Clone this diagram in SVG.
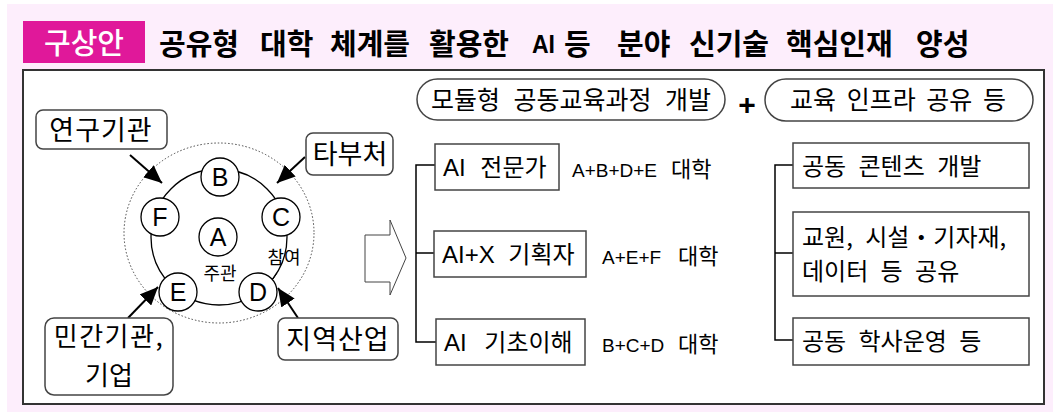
<svg xmlns="http://www.w3.org/2000/svg" width="1053" height="416" viewBox="0 0 1053 416">
<style>
.t{font-family:"Noto Sans CJK KR","Liberation Sans",sans-serif;fill:#000}
.l{font-family:"Liberation Sans","Noto Sans CJK KR",sans-serif;fill:#000}
.box{fill:#fff;stroke:#444;stroke-width:1.5}
.ln{fill:none;stroke:#000;stroke-width:1.5}
.arr{fill:none;stroke:#000;stroke-width:2;marker-end:url(#ah)}
.sc{fill:#fff;stroke:#000;stroke-width:1.3}
</style>
<defs>
<marker id="ah" markerUnits="userSpaceOnUse" markerWidth="20" markerHeight="16" refX="18" refY="8" orient="auto">
<path d="M0,0 L18,8 L0,16 Z" fill="#000"/>
</marker>
</defs>
<rect x="7" y="4" width="1046" height="408" fill="#fdeefc"/>
<g id="title">
<rect x="23" y="21" width="122" height="42" fill="#e0189a"/>
<text class="t" x="84" y="54" font-size="29" font-weight="500" style="fill:#fff" text-anchor="middle">구상안</text>
<text class="t" y="55" font-size="29" font-weight="700"><tspan x="159">공유형</tspan> <tspan x="260">대학</tspan> <tspan x="330">체계를</tspan> <tspan x="429">활용한</tspan> <tspan x="564">등</tspan> <tspan x="617">분야</tspan> <tspan x="689">신기술</tspan> <tspan x="786">핵심인재</tspan> <tspan x="916">양성</tspan></text>
<text class="l" x="532" y="53" font-size="26" font-weight="700" textLength="23" lengthAdjust="spacingAndGlyphs">AI</text>
</g>
<rect x="23" y="70" width="1021" height="334" fill="#fff" stroke="#333" stroke-width="2"/>
<g id="orbit">
<ellipse cx="219" cy="233" rx="95" ry="90" fill="none" stroke="#444" stroke-width="1" stroke-dasharray="1.5,2"/>
<circle cx="219" cy="237" r="68" fill="none" stroke="#000" stroke-width="1.3"/>
</g>
<g id="connectors">
<line class="arr" x1="130" y1="155" x2="162" y2="183"/>
<line class="arr" x1="305" y1="157" x2="277" y2="183"/>
<line class="arr" x1="128" y1="318" x2="158" y2="287"/>
<line class="arr" x1="298" y1="318" x2="278" y2="288"/>
<path d="M365,235 H390 V220 L406,258 L390,295 V282 H365 Z" fill="#fff" stroke="#444" stroke-width="1"/>
<path class="ln" d="M435,165 H416 V342 H436 M416,253 H434"/>
<path class="ln" d="M793,165 H775 V340 H793 M775,253 H793"/>
<line x1="273" y1="279" x2="277" y2="273" stroke="#000" stroke-width="1"/>
</g>
<g id="nodeA"><circle class="sc" cx="218" cy="237" r="19"/><text class="l" x="218" y="246" font-size="25" text-anchor="middle">A</text></g>
<g id="nodeB"><circle class="sc" cx="220" cy="177" r="19"/><text class="l" x="220" y="186" font-size="25" text-anchor="middle">B</text></g>
<g id="nodeC"><circle class="sc" cx="281" cy="217" r="19"/><text class="l" x="281" y="226" font-size="25" text-anchor="middle">C</text></g>
<g id="nodeD"><circle class="sc" cx="258" cy="292" r="19"/><text class="l" x="258" y="301" font-size="25" text-anchor="middle">D</text></g>
<g id="nodeE"><circle class="sc" cx="178" cy="292" r="19"/><text class="l" x="178" y="301" font-size="25" text-anchor="middle">E</text></g>
<g id="nodeF"><circle class="sc" cx="160" cy="217" r="19"/><text class="l" x="160" y="226" font-size="25" text-anchor="middle">F</text></g>
<g id="labels">
<text class="t" x="220" y="280" font-size="18" text-anchor="middle">주관</text>
<text class="t" x="284" y="264" font-size="18" text-anchor="middle">참여</text>
</g>
<g id="yeongu"><rect class="box" x="36" y="110" width="131" height="39" rx="7"/><text class="t" x="101" y="140" font-size="27" letter-spacing="1" text-anchor="middle">연구기관</text></g>
<g id="tabucheo"><rect class="box" x="306" y="133" width="87" height="42" rx="7"/><text class="t" x="350" y="164" font-size="27" text-anchor="middle">타부처</text></g>
<g id="mingan"><rect class="box" x="45" y="318" width="128" height="77" rx="9"/><text class="t" x="109" y="346" font-size="26" letter-spacing="1.5" text-anchor="middle">민간기관,</text><text class="t" x="109" y="385" font-size="26" text-anchor="middle">기업</text></g>
<g id="jiyeok"><rect class="box" x="278" y="318" width="120" height="42" rx="7"/><text class="t" x="338" y="349" font-size="27" letter-spacing="1" text-anchor="middle">지역산업</text></g>
<g id="module"><rect class="box" x="417" y="79" width="308" height="41" rx="20.5"/><text class="t" x="571" y="109" font-size="25" text-anchor="middle" word-spacing="8">모듈형 공동교육과정 개발</text></g>
<g id="plus"><text class="l" x="747" y="115" font-size="30" font-weight="700" text-anchor="middle">+</text></g>
<g id="infra"><rect class="box" x="765" y="79" width="268" height="42" rx="21"/><text class="t" x="898" y="109" font-size="25" text-anchor="middle" word-spacing="5">교육 인프라 공유 등</text></g>
<g id="aiexpert"><rect class="box" x="435" y="144" width="124" height="46"/><text class="l" x="443" y="176" font-size="24" word-spacing="8">AI 전문가</text><text class="l" x="572" y="177" font-size="19">A+B+D+E<tspan x="671" class="t" font-size="22">대학</tspan></text></g>
<g id="aix"><rect class="box" x="434" y="231" width="152" height="46"/><text class="l" x="442" y="263" font-size="24" word-spacing="7">AI+X 기획자</text><text class="l" x="602" y="264" font-size="19">A+E+F<tspan x="678" class="t" font-size="22">대학</tspan></text></g>
<g id="aibasic"><rect class="box" x="436" y="319" width="149" height="46"/><text class="l" x="444" y="351" font-size="24" word-spacing="11">AI 기초이해</text><text class="l" x="602" y="352" font-size="19">B+C+D<tspan x="678" class="t" font-size="22">대학</tspan></text></g>
<g id="content"><rect class="box" x="793" y="143" width="236" height="45"/><text class="t" x="802" y="175" font-size="24" word-spacing="7">공동 콘텐츠 개발</text></g>
<g id="share"><rect class="box" x="793" y="212" width="236" height="84"/><text class="t" x="802" y="246" font-size="24" word-spacing="7">교원, 시설・기자재,</text><text class="t" x="802" y="280" font-size="24" word-spacing="7">데이터 등 공유</text></g>
<g id="haksa"><rect class="box" x="793" y="318" width="236" height="47"/><text class="t" x="802" y="350" font-size="24" word-spacing="7">공동 학사운영 등</text></g>
</svg>
